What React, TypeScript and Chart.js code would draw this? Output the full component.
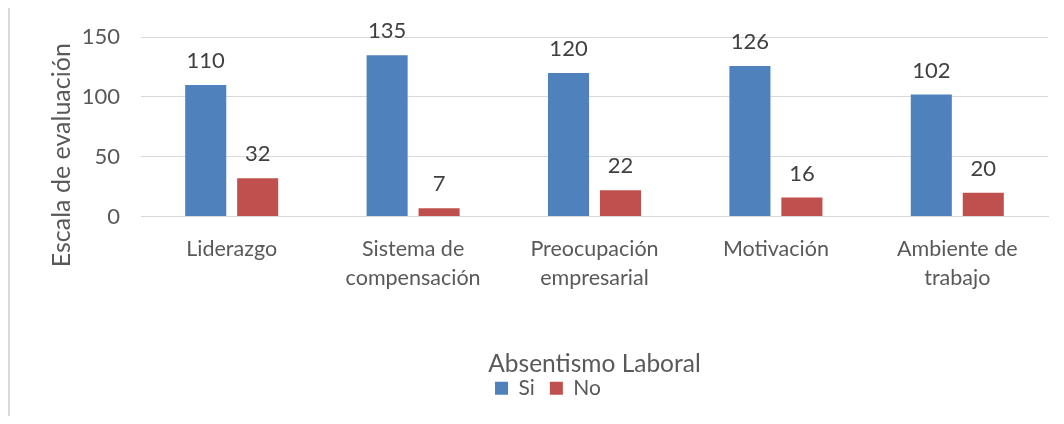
import React, { useEffect, useRef } from "react";
import { Chart, registerables } from "chart.js";

Chart.register(...registerables);

const categories: (string | string[])[] = [
  "Liderazgo",
  ["Sistema de", "compensación"],
  ["Preocupación", "empresarial"],
  "Motivación",
  ["Ambiente de", "trabajo"],
];
const siValues = [110, 135, 120, 126, 102];
const noValues = [32, 7, 22, 16, 20];
const yTicks = [0, 50, 100, 150];
const seriesNames = ["Si", "No"];
const yTitle = "Escala de evaluación";
const xTitle = "Absentismo Laboral";

const FONT = "Lato, 'Noto Sans', sans-serif";

const dataLabels = {
  id: "dataLabels",
  afterDatasetsDraw(chart: any) {
    const ctx = chart.ctx;
    ctx.save();
    ctx.font = `22px ${FONT}`;
    ctx.fillStyle = "#404040";
    ctx.textAlign = "center";
    ctx.textBaseline = "middle";
    chart.data.datasets.forEach((ds: any, di: number) => {
      const meta = chart.getDatasetMeta(di);
      meta.data.forEach((bar: any, i: number) => {
        ctx.fillText(String(ds.data[i]), bar.x, bar.y - 24);
      });
    });
    ctx.restore();
  },
};

// Y-axis title, placed like the Excel original (centred lower than the plot area)
const yTitlePlugin = {
  id: "yTitlePlugin",
  afterDraw(chart: any) {
    const ctx = chart.ctx;
    const area = chart.chartArea;
    ctx.save();
    ctx.translate(area.left - 79, area.top + 118);
    ctx.rotate(-Math.PI / 2);
    ctx.font = `25px ${FONT}`;
    ctx.fillStyle = "#595959";
    ctx.textAlign = "center";
    ctx.textBaseline = "middle";
    ctx.fillText(yTitle, 0, 0);
    ctx.restore();
  },
};

export default function App() {
  const ref = useRef<HTMLCanvasElement>(null);
  useEffect(() => {
    if (!ref.current) return;
    const chart = new Chart(ref.current, {
      type: "bar",
      data: {
        labels: categories,
        datasets: [
          { label: seriesNames[0], data: siValues, backgroundColor: "#4F81BD" },
          { label: seriesNames[1], data: noValues, backgroundColor: "#C0504D" },
        ],
      },
      plugins: [dataLabels, yTitlePlugin],
      options: {
        animation: false,
        responsive: true,
        maintainAspectRatio: false,
        datasets: { bar: { categoryPercentage: 0.573, barPercentage: 0.79 } },
        layout: { padding: { left: 38, right: 8, top: 0, bottom: 7.5 } },
        plugins: {
          tooltip: { enabled: false },
          legend: {
            position: "bottom",
            labels: {
              boxWidth: 13,
              boxHeight: 13,
              padding: 15,
              color: "#595959",
              font: { family: FONT, size: 21 },
            },
          },
        },
        scales: {
          x: {
            grid: { display: false, drawTicks: false },
            border: { display: true, color: "#D9D9D9", width: 1 },
            ticks: {
              color: "#595959",
              padding: 18,
              maxRotation: 0,
              autoSkip: false,
              font: { family: FONT, size: 21.5, lineHeight: 1.35 },
            },
            title: {
              display: true,
              text: xTitle,
              color: "#595959",
              font: { family: FONT, size: 24.5 },
              padding: { top: 38.6, bottom: -15.9 },
            },
          },
          y: {
            min: 0,
            max: 150,
            afterBuildTicks: (scale: any) => {
              scale.ticks = yTicks.map((v) => ({ value: v }));
            },
            afterFit: (scale: any) => {
              scale.width = 93;
            },
            grid: { color: "#D9D9D9", lineWidth: 1, drawTicks: false },
            border: { display: false },
            ticks: {
              color: "#595959",
              padding: 21,
              font: { family: FONT, size: 22 },
            },
            title: { display: false },
          },
        },
      },
    });
    return () => chart.destroy();
  }, []);
  return (
    <div
      style={{
        marginTop: -2,
        borderTop: "2px solid #D9D9D9",
        borderLeft: "2px solid #D9D9D9",
        height: 408,
        position: "relative",
      }}
    >
      <div
        style={{
          position: "absolute",
          left: 0,
          top: -5.2,
          width: "100%",
          height: 413.2,
        }}
      >
        <canvas ref={ref} />
      </div>
    </div>
  );
}
